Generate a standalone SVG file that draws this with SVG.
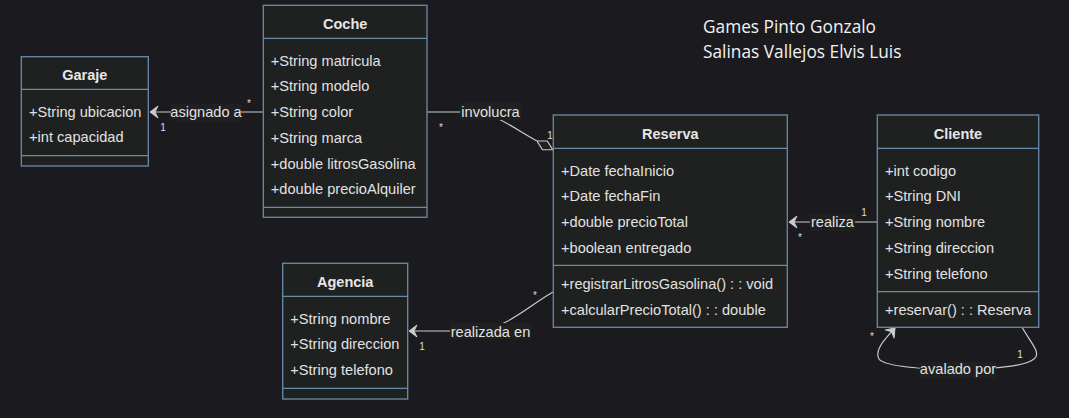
<svg xmlns="http://www.w3.org/2000/svg" width="1069" height="418" viewBox="0 0 1069 418">
<style>
.bg{fill:#1b1b1f}
.box{fill:#1f2020;stroke:#6b8bab;stroke-width:1.3}
.div{stroke:#6b8bab;stroke-width:1.3}
.title{font-family:"Liberation Sans",Arial,sans-serif;font-size:14.5px;font-weight:bold;fill:#e6e6e6;text-anchor:middle}
.attr{font-family:"Liberation Sans",Arial,sans-serif;font-size:14.6px;fill:#e2e2e2}
.edge{fill:none;stroke:#cccccc;stroke-width:1.2}
.lblbg{fill:#1f2020}
.lbl{font-family:"Liberation Sans",Arial,sans-serif;font-size:14.6px;fill:#e2e2e2;text-anchor:middle}
.card{font-family:"Liberation Sans",Arial,sans-serif;font-size:10px;fill:#dddddd;text-anchor:middle}
.auth{font-family:"Open Sans","Liberation Sans",Arial,sans-serif;font-size:17.3px;fill:#f2f2f2}
</style>
<defs>
<marker id="arr" markerUnits="userSpaceOnUse" markerWidth="12" markerHeight="16" viewBox="0 -8 12 16" refX="9" refY="0" orient="auto">
<path d="M1,-6 L9,0 L1,6 L4,0 Z" fill="#cccccc" stroke="#cccccc" stroke-width="1" stroke-linejoin="round"/>
</marker>
<marker id="dia" markerUnits="userSpaceOnUse" markerWidth="20" markerHeight="12" viewBox="0 -6 20 12" refX="0" refY="0" orient="auto">
<path d="M0,0 L9,-5 L18,0 L9,5 Z" fill="#1f2020" stroke="#cccccc" stroke-width="1.2"/>
</marker>
</defs>
<rect class="bg" x="0" y="0" width="1069" height="418"/>

<g id="connectors">
<path class="edge" d="M263,112 L150,112" marker-end="url(#arr)"/>
<path class="edge" d="M427,112 L470,112 C494,112 510,126 537,141" marker-end="url(#dia)"/>
<path class="edge" d="M877,222 L789,222" marker-end="url(#arr)"/>
<path class="edge" d="M553,292 C525,308 505,331 470,331 L409,331" marker-end="url(#arr)"/>
<path class="edge" d="M1022,327 C1030,342 1042,353 1034,359 C1026,366 995,369 958,370 C920,369 884,366 879,359 C874,350 885,339 895,328" marker-end="url(#arr)"/>

<rect class="lblbg" x="171" y="104" width="70" height="17"/>
<text class="lbl" x="206" y="117">asignado a</text>
<rect class="lblbg" x="460" y="103" width="61" height="17"/>
<text class="lbl" x="490.5" y="116.5">involucra</text>
<rect class="lblbg" x="810" y="214" width="45" height="17"/>
<text class="lbl" x="832.5" y="226.5">realiza</text>
<rect class="lblbg" x="450" y="323" width="81" height="16"/>
<text class="lbl" x="490.5" y="336.5">realizada en</text>
<rect class="lblbg" x="920" y="362" width="76" height="16"/>
<text class="lbl" x="958" y="373.5">avalado por</text>

<text class="card" x="249" y="107">*</text>
<text class="card" x="163" y="131">1</text>
<text class="card" x="441" y="131">*</text>
<text class="card" x="550" y="139">1</text>
<text class="card" x="864" y="216">1</text>
<text class="card" x="800" y="241">*</text>
<text class="card" x="535" y="299">*</text>
<text class="card" x="422" y="350">1</text>
<text class="card" x="872" y="340">*</text>
<text class="card" x="1020" y="358">1</text>
</g>

<g id="Garaje">
<rect class="box" x="21.3" y="56.7" width="127" height="109.3"/>
<line class="div" x1="21.3" y1="89.3" x2="148.3" y2="89.3"/>
<line class="div" x1="21.3" y1="155.7" x2="148.3" y2="155.7"/>
<text class="title" x="84.8" y="80">Garaje</text>
<text class="attr" x="29" y="116.7">+String ubicacion</text>
<text class="attr" x="29" y="142.4">+int capacidad</text>
</g>

<g id="Coche">
<rect class="box" x="263.3" y="5.3" width="163.7" height="212"/>
<line class="div" x1="263.3" y1="38.3" x2="427" y2="38.3"/>
<line class="div" x1="263.3" y1="207.3" x2="427" y2="207.3"/>
<text class="title" x="345.2" y="28.8">Coche</text>
<text class="attr" x="270.8" y="65.7">+String matricula</text>
<text class="attr" x="270.8" y="91.4">+String modelo</text>
<text class="attr" x="270.8" y="117.1">+String color</text>
<text class="attr" x="270.8" y="142.8">+String marca</text>
<text class="attr" x="270.8" y="168.5">+double litrosGasolina</text>
<text class="attr" x="270.8" y="194.2">+double precioAlquiler</text>
</g>

<g id="Reserva">
<rect class="box" x="553.3" y="115" width="234" height="212.3"/>
<line class="div" x1="553.3" y1="148.3" x2="787.3" y2="148.3"/>
<line class="div" x1="553.3" y1="265.3" x2="787.3" y2="265.3"/>
<text class="title" x="670.3" y="139.3">Reserva</text>
<text class="attr" x="561" y="175.7">+Date fechaInicio</text>
<text class="attr" x="561" y="201.4">+Date fechaFin</text>
<text class="attr" x="561" y="227.1">+double precioTotal</text>
<text class="attr" x="561" y="252.8">+boolean entregado</text>
<text class="attr" x="561" y="289">+registrarLitrosGasolina() : : void</text>
<text class="attr" x="561" y="315">+calcularPrecioTotal() : : double</text>
</g>

<g id="Cliente">
<rect class="box" x="877.3" y="115" width="161.4" height="212.3"/>
<line class="div" x1="877.3" y1="148.3" x2="1038.7" y2="148.3"/>
<line class="div" x1="877.3" y1="291.7" x2="1038.7" y2="291.7"/>
<text class="title" x="958" y="139.3">Cliente</text>
<text class="attr" x="885" y="175.7">+int codigo</text>
<text class="attr" x="885" y="201.4">+String DNI</text>
<text class="attr" x="885" y="227.1">+String nombre</text>
<text class="attr" x="885" y="252.8">+String direccion</text>
<text class="attr" x="885" y="278.5">+String telefono</text>
<text class="attr" x="885" y="315">+reservar() : : Reserva</text>
</g>

<g id="Agencia">
<rect class="box" x="282.7" y="263.3" width="125" height="135.7"/>
<line class="div" x1="282.7" y1="296.3" x2="407.7" y2="296.3"/>
<line class="div" x1="282.7" y1="388.3" x2="407.7" y2="388.3"/>
<text class="title" x="345.2" y="287.3">Agencia</text>
<text class="attr" x="290.3" y="323.7">+String nombre</text>
<text class="attr" x="290.3" y="349.4">+String direccion</text>
<text class="attr" x="290.3" y="375.1">+String telefono</text>
</g>

<g id="authors">
<text class="auth" x="703" y="33">Games Pinto Gonzalo</text>
<text class="auth" x="703" y="58">Salinas Vallejos Elvis Luis</text>
</g>
</svg>
